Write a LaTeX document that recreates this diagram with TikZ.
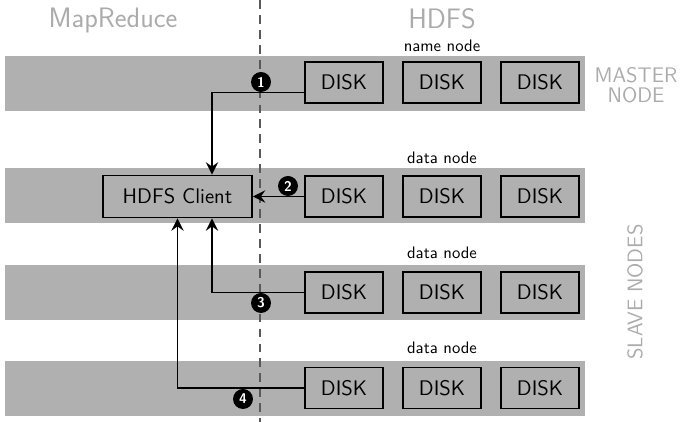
\documentclass[tikz,border=0pt]{standalone}
\usepackage{tikz}
\usetikzlibrary{positioning, arrows.meta, calc}
\begin{document}
\begin{tikzpicture}[band/.style={fill=black!31, minimum width=11.6cm, minimum height=1.1cm, inner sep=0pt},
disk/.style={draw, line width=1.1pt, minimum width=1.56cm, minimum height=0.82cm, font=\sffamily\fontsize{12}{14}\selectfont},
lbl/.style={font=\sffamily\fontsize{9.5}{11}\selectfont},
ttl/.style={text=black!33, font=\sffamily\fontsize{16}{18}\selectfont},
side/.style={text=black!33, align=center, font=\sffamily\fontsize{12}{11.5}\selectfont},
num/.style={circle, fill=black, text=white, inner sep=0pt, minimum size=0.4cm, font=\sffamily\bfseries\fontsize{8}{8}\selectfont},
arr/.style={line width=1.1pt, -{Stealth[length=7pt, width=7pt, inset=2.5pt]}}]
\useasboundingbox (0,0) rectangle (13.76,-8.44);
\node[band] (NN) at (5.9,-1.67) {};
\node[band] (DN1) at (5.9,-3.92) {};
\node[band] (DN2) at (5.9,-5.85) {};
\node[band] (DN3) at (5.9,-7.77) {};
\coordinate (top) at (5.2,0); \coordinate (bot) at (5.2,-8.44);
\draw[black!65, line width=0.8pt, dash pattern=on 5pt off 3.5pt] (top) -- (bot);
\node[ttl] (MR) at (2.26,-0.40) {MapReduce};
\node[ttl] (HD) at (8.84,-0.38) {HDFS};
\node[side] (MN) at (12.72,-1.70) {MASTER\\NODE};
\node[side, rotate=90] (SN) at (12.70,-5.84) {SLAVE NODES};
\node[lbl] (L0) at (8.84,-0.92) {name node};
\node[lbl] (L1) at (8.84,-3.16) {data node};
\node[lbl] (L2) at (8.84,-5.06) {data node};
\node[lbl] (L3) at (8.84,-6.96) {data node};
\node[disk] (D11) at (6.88,-1.65) {DISK}; \node[disk] (D12) at (8.84,-1.65) {DISK}; \node[disk] (D13) at (10.80,-1.65) {DISK};
\node[disk] (D21) at (6.88,-3.93) {DISK}; \node[disk] (D22) at (8.84,-3.93) {DISK}; \node[disk] (D23) at (10.80,-3.93) {DISK};
\node[disk] (D31) at (6.88,-5.85) {DISK}; \node[disk] (D32) at (8.84,-5.85) {DISK}; \node[disk] (D33) at (10.80,-5.85) {DISK};
\node[disk] (D41) at (6.88,-7.76) {DISK}; \node[disk] (D42) at (8.84,-7.76) {DISK}; \node[disk] (D43) at (10.80,-7.76) {DISK};
\node[disk, minimum width=2.98cm, minimum height=0.84cm] (C) at (3.55,-3.93) {HDFS Client};
\draw[arr] ([yshift=-0.2cm]D11.west) -| ([xshift=0.69cm]C.north);
\draw[arr] (D21.west) -- (C.east);
\draw[arr] (D31.west) -| ([xshift=0.69cm]C.south);
\draw[arr] (D41.west) -| (C.south);
\node[num] (N1) at (5.22,-1.64) {1};
\node[num] (N2) at (5.76,-3.72) {2};
\node[num] (N3) at (5.22,-6.06) {3};
\node[num] (N4) at (4.86,-7.98) {4};
\end{tikzpicture}
\end{document}
